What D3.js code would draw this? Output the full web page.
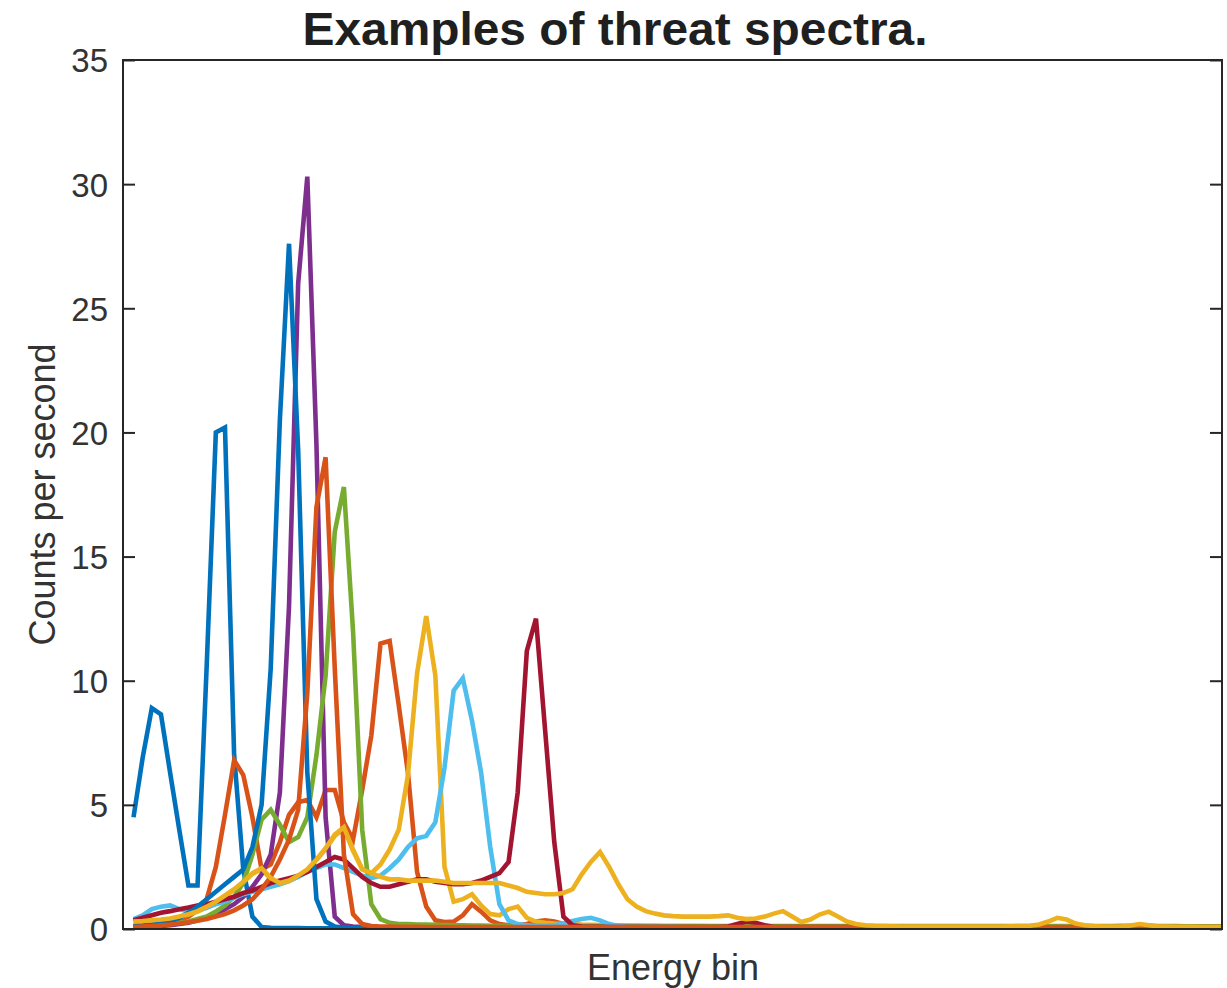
<!DOCTYPE html>
<html>
<head>
<meta charset="utf-8">
<script src="https://cdn.jsdelivr.net/npm/d3@7"></script>
<style>
  body { margin: 0; background: #ffffff; }
  svg { display: block; }
  text { font-family: "Liberation Sans", Arial, Helvetica, sans-serif; }
</style>
</head>
<body>
<svg id="chart" width="1227" height="988"></svg>
<script>
// Energy bin numbers (channel index of the detector spectrum)
const energyBins = d3.range(1, 121);

// Counts per second for each example threat spectrum, one value per bin
const spectrum1 = [
  4.5, 6.9, 8.9, 8.65, 6.3, 4.0, 1.75, 1.75, 10.6, 20.0, 20.2, 7.0, 2.4, 0.5, 0.08, 0.05, 0.04, 0.04, 0.04, 0.03,
  0.03, 0.03, 0.03, 0.03, 0.03, 0.03, 0.03, 0.03, 0.03, 0.03, 0.03, 0.03, 0.03, 0.03, 0.03, 0.03, 0.03, 0.03, 0.03, 0.03,
  0.03, 0.03, 0.03, 0.03, 0.03, 0.03, 0.03, 0.03, 0.03, 0.03, 0.03, 0.03, 0.03, 0.03, 0.03, 0.03, 0.03, 0.03, 0.03, 0.03,
  0.03, 0.03, 0.03, 0.03, 0.03, 0.03, 0.03, 0.03, 0.03, 0.03, 0.03, 0.03, 0.03, 0.03, 0.03, 0.03, 0.03, 0.03, 0.03, 0.03,
  0.03, 0.03, 0.03, 0.03, 0.03, 0.03, 0.03, 0.03, 0.03, 0.03, 0.03, 0.03, 0.03, 0.03, 0.03, 0.03, 0.03, 0.03, 0.03, 0.03,
  0.03, 0.03, 0.03, 0.03, 0.03, 0.03, 0.03, 0.03, 0.03, 0.03, 0.03, 0.03, 0.03, 0.03, 0.03, 0.03, 0.03, 0.03, 0.03, 0.03
];
const spectrum2 = [
  0.1, 0.12, 0.15, 0.2, 0.25, 0.35, 0.5, 0.75, 1.2, 2.5, 4.6, 6.8, 6.2, 4.5, 2.4, 2.6, 3.5, 4.6, 5.1, 5.2,
  4.5, 5.6, 5.6, 4.3, 3.6, 5.6, 7.8, 11.5, 11.6, 9.0, 6.3, 2.3, 0.9, 0.35, 0.28, 0.3, 0.55, 1.0, 0.7, 0.35,
  0.2, 0.15, 0.15, 0.2, 0.3, 0.35, 0.3, 0.2, 0.12, 0.1, 0.09, 0.09, 0.08, 0.08, 0.08, 0.08, 0.08, 0.08, 0.08, 0.08,
  0.08, 0.08, 0.08, 0.08, 0.08, 0.08, 0.08, 0.08, 0.08, 0.08, 0.08, 0.08, 0.08, 0.08, 0.08, 0.08, 0.08, 0.08, 0.08, 0.08,
  0.07, 0.07, 0.07, 0.07, 0.07, 0.07, 0.07, 0.07, 0.07, 0.07, 0.07, 0.07, 0.07, 0.07, 0.07, 0.07, 0.07, 0.07, 0.07, 0.07,
  0.07, 0.07, 0.07, 0.07, 0.07, 0.07, 0.07, 0.07, 0.07, 0.07, 0.07, 0.07, 0.07, 0.07, 0.07, 0.07, 0.07, 0.07, 0.07, 0.07
];
const spectrum3 = [
  0.28, 0.3, 0.33, 0.36, 0.4, 0.48, 0.58, 0.7, 0.88, 1.08, 1.32, 1.58, 1.88, 2.22, 2.42, 2.02, 1.82, 1.92, 2.12, 2.38,
  2.78, 3.22, 3.75, 4.05, 3.15, 2.42, 2.25, 2.6, 3.2, 4.0, 6.2, 10.3, 12.6, 10.2, 2.5, 1.1, 1.2, 1.4, 0.95, 0.6,
  0.55, 0.8, 0.9, 0.45, 0.3, 0.25, 0.22, 0.2, 0.2, 0.18, 0.17, 0.16, 0.15, 0.15, 0.14, 0.14, 0.13, 0.13, 0.12, 0.12,
  0.12, 0.12, 0.12, 0.11, 0.11, 0.11, 0.11, 0.11, 0.1, 0.1, 0.1, 0.1, 0.1, 0.1, 0.1, 0.1, 0.1, 0.1, 0.1, 0.1,
  0.1, 0.1, 0.1, 0.1, 0.1, 0.1, 0.1, 0.1, 0.1, 0.1, 0.1, 0.1, 0.1, 0.1, 0.1, 0.1, 0.1, 0.1, 0.1, 0.1,
  0.09, 0.09, 0.09, 0.09, 0.09, 0.09, 0.09, 0.09, 0.09, 0.09, 0.09, 0.09, 0.09, 0.09, 0.09, 0.09, 0.09, 0.09, 0.09, 0.09
];
const spectrum4 = [
  0.1, 0.1, 0.1, 0.12, 0.15, 0.2, 0.25, 0.35, 0.45, 0.6, 0.8, 1.0, 1.3, 1.7, 2.2, 3.0, 5.5, 13.0, 26.0, 30.3,
  19.5, 4.5, 0.5, 0.15, 0.1, 0.08, 0.07, 0.07, 0.06, 0.06, 0.06, 0.06, 0.06, 0.06, 0.06, 0.06, 0.06, 0.06, 0.06, 0.06,
  0.05, 0.05, 0.05, 0.05, 0.05, 0.05, 0.05, 0.05, 0.05, 0.05, 0.05, 0.05, 0.05, 0.05, 0.05, 0.05, 0.05, 0.05, 0.05, 0.05,
  0.05, 0.05, 0.05, 0.05, 0.05, 0.05, 0.05, 0.05, 0.05, 0.05, 0.05, 0.05, 0.05, 0.05, 0.05, 0.05, 0.05, 0.05, 0.05, 0.05,
  0.05, 0.05, 0.05, 0.05, 0.05, 0.05, 0.05, 0.05, 0.05, 0.05, 0.05, 0.05, 0.05, 0.05, 0.05, 0.05, 0.05, 0.05, 0.05, 0.05,
  0.05, 0.05, 0.05, 0.05, 0.05, 0.05, 0.05, 0.05, 0.05, 0.05, 0.05, 0.05, 0.05, 0.05, 0.05, 0.05, 0.05, 0.05, 0.05, 0.05
];
const spectrum5 = [
  0.1, 0.1, 0.12, 0.15, 0.2, 0.25, 0.3, 0.4, 0.5, 0.7, 0.95, 1.3, 1.85, 3.0, 4.4, 4.8, 4.2, 3.5, 3.7, 4.5,
  7.0, 10.2, 16.0, 17.8, 12.0, 4.0, 1.0, 0.4, 0.25, 0.2, 0.2, 0.18, 0.18, 0.17, 0.16, 0.15, 0.15, 0.14, 0.14, 0.13,
  0.13, 0.13, 0.12, 0.12, 0.12, 0.12, 0.12, 0.12, 0.12, 0.12, 0.12, 0.12, 0.12, 0.12, 0.12, 0.12, 0.12, 0.12, 0.12, 0.12,
  0.12, 0.12, 0.12, 0.12, 0.12, 0.12, 0.12, 0.12, 0.12, 0.12, 0.12, 0.12, 0.12, 0.12, 0.12, 0.12, 0.12, 0.12, 0.12, 0.12,
  0.12, 0.12, 0.12, 0.12, 0.12, 0.12, 0.12, 0.12, 0.12, 0.12, 0.12, 0.12, 0.12, 0.12, 0.12, 0.12, 0.12, 0.12, 0.12, 0.12,
  0.12, 0.12, 0.12, 0.12, 0.12, 0.12, 0.12, 0.12, 0.13, 0.14, 0.16, 0.14, 0.12, 0.12, 0.12, 0.11, 0.11, 0.11, 0.11, 0.11
];
const spectrum6 = [
  0.4, 0.55, 0.8, 0.9, 0.95, 0.8, 0.7, 0.75, 0.85, 1.0, 1.1, 1.25, 1.4, 1.5, 1.6, 1.7, 1.8, 1.95, 2.1, 2.3,
  2.45, 2.6, 2.6, 2.45, 2.3, 2.15, 2.05, 2.15, 2.45, 2.8, 3.3, 3.65, 3.75, 4.3, 6.5, 9.6, 10.1, 8.4, 6.3, 3.3,
  1.0, 0.35, 0.2, 0.15, 0.12, 0.12, 0.15, 0.22, 0.32, 0.4, 0.45, 0.35, 0.2, 0.12, 0.09, 0.08, 0.08, 0.08, 0.08, 0.08,
  0.07, 0.07, 0.07, 0.07, 0.07, 0.07, 0.07, 0.07, 0.07, 0.07, 0.07, 0.07, 0.07, 0.07, 0.07, 0.07, 0.07, 0.07, 0.07, 0.07,
  0.07, 0.07, 0.07, 0.07, 0.07, 0.07, 0.07, 0.07, 0.07, 0.07, 0.07, 0.07, 0.07, 0.07, 0.07, 0.07, 0.07, 0.07, 0.07, 0.07,
  0.07, 0.07, 0.07, 0.07, 0.07, 0.07, 0.07, 0.07, 0.07, 0.07, 0.07, 0.07, 0.07, 0.07, 0.07, 0.07, 0.07, 0.07, 0.07, 0.07
];
const spectrum7 = [
  0.35, 0.45, 0.55, 0.65, 0.72, 0.8, 0.87, 0.95, 1.0, 1.1, 1.2, 1.3, 1.45, 1.55, 1.7, 1.85, 1.95, 2.05, 2.15, 2.3,
  2.5, 2.7, 2.9, 2.8, 2.45, 2.1, 1.85, 1.7, 1.7, 1.8, 1.9, 2.0, 2.0, 1.9, 1.85, 1.8, 1.8, 1.85, 1.95, 2.1,
  2.25, 2.7, 5.5, 11.2, 12.5, 8.0, 3.5, 0.5, 0.15, 0.1, 0.09, 0.09, 0.08, 0.08, 0.08, 0.08, 0.08, 0.08, 0.08, 0.08,
  0.08, 0.08, 0.08, 0.08, 0.08, 0.1, 0.2, 0.3, 0.25, 0.15, 0.08, 0.08, 0.08, 0.08, 0.08, 0.08, 0.08, 0.08, 0.08, 0.08,
  0.07, 0.07, 0.07, 0.07, 0.07, 0.07, 0.07, 0.07, 0.07, 0.07, 0.07, 0.07, 0.07, 0.07, 0.07, 0.07, 0.07, 0.07, 0.07, 0.07,
  0.07, 0.07, 0.07, 0.07, 0.07, 0.07, 0.07, 0.07, 0.07, 0.07, 0.07, 0.07, 0.07, 0.07, 0.07, 0.07, 0.07, 0.07, 0.07, 0.07
];
const spectrum8 = [
  0.12, 0.14, 0.17, 0.22, 0.3, 0.45, 0.65, 0.9, 1.2, 1.5, 1.8, 2.1, 2.4, 3.3, 5.0, 10.5, 20.5, 27.6, 19.3, 6.3,
  1.2, 0.3, 0.1, 0.05, 0.04, 0.04, 0.04, 0.04, 0.04, 0.04, 0.04, 0.04, 0.04, 0.04, 0.04, 0.04, 0.04, 0.04, 0.04, 0.04,
  0.04, 0.04, 0.04, 0.04, 0.04, 0.04, 0.04, 0.04, 0.04, 0.04, 0.04, 0.04, 0.04, 0.04, 0.04, 0.04, 0.04, 0.04, 0.04, 0.04,
  0.04, 0.04, 0.04, 0.04, 0.04, 0.04, 0.04, 0.04, 0.04, 0.04, 0.04, 0.04, 0.04, 0.04, 0.04, 0.04, 0.04, 0.04, 0.04, 0.04,
  0.04, 0.04, 0.04, 0.04, 0.04, 0.04, 0.04, 0.04, 0.04, 0.04, 0.04, 0.04, 0.04, 0.04, 0.04, 0.04, 0.04, 0.04, 0.04, 0.04,
  0.04, 0.04, 0.04, 0.04, 0.04, 0.04, 0.04, 0.04, 0.04, 0.04, 0.04, 0.04, 0.04, 0.04, 0.04, 0.04, 0.04, 0.04, 0.04, 0.04
];
const spectrum9 = [
  0.08, 0.1, 0.12, 0.15, 0.18, 0.22, 0.27, 0.33, 0.4, 0.5, 0.6, 0.75, 0.95, 1.2, 1.6, 2.1, 2.8, 3.6, 4.8, 9.5,
  17.0, 19.0, 10.5, 3.0, 0.6, 0.2, 0.12, 0.1, 0.1, 0.09, 0.09, 0.09, 0.08, 0.08, 0.08, 0.08, 0.08, 0.08, 0.08, 0.08,
  0.08, 0.08, 0.08, 0.08, 0.08, 0.08, 0.08, 0.08, 0.08, 0.08, 0.08, 0.08, 0.08, 0.08, 0.08, 0.08, 0.08, 0.08, 0.08, 0.08,
  0.08, 0.08, 0.08, 0.08, 0.08, 0.08, 0.08, 0.08, 0.08, 0.08, 0.08, 0.08, 0.08, 0.08, 0.08, 0.08, 0.08, 0.08, 0.08, 0.08,
  0.08, 0.08, 0.08, 0.08, 0.08, 0.08, 0.08, 0.08, 0.08, 0.08, 0.08, 0.08, 0.08, 0.08, 0.08, 0.08, 0.08, 0.08, 0.08, 0.08,
  0.08, 0.08, 0.08, 0.08, 0.08, 0.08, 0.08, 0.08, 0.08, 0.08, 0.08, 0.08, 0.08, 0.08, 0.08, 0.08, 0.08, 0.08, 0.08, 0.08
];
const spectrum10 = [
  0.3, 0.32, 0.35, 0.38, 0.42, 0.5, 0.6, 0.72, 0.9, 1.1, 1.35, 1.6, 1.9, 2.25, 2.45, 2.05, 1.85, 1.95, 2.15, 2.4,
  2.8, 3.25, 3.8, 4.1, 3.2, 2.4, 2.25, 2.1, 2.0, 2.0, 1.95, 1.95, 1.95, 1.95, 1.9, 1.85, 1.85, 1.85, 1.85, 1.85,
  1.85, 1.75, 1.65, 1.5, 1.45, 1.4, 1.4, 1.45, 1.6, 2.2, 2.7, 3.1, 2.5, 1.8, 1.2, 0.9, 0.72, 0.62, 0.55, 0.52,
  0.5, 0.5, 0.5, 0.5, 0.52, 0.55, 0.45, 0.4, 0.42, 0.5, 0.62, 0.72, 0.5, 0.28, 0.38, 0.58, 0.7, 0.5, 0.3, 0.2,
  0.15, 0.13, 0.12, 0.11, 0.1, 0.1, 0.1, 0.1, 0.1, 0.1, 0.1, 0.1, 0.1, 0.1, 0.1, 0.1, 0.11, 0.12, 0.13, 0.18,
  0.3, 0.45, 0.38, 0.22, 0.15, 0.12, 0.1, 0.1, 0.1, 0.14, 0.2, 0.15, 0.1, 0.1, 0.09, 0.09, 0.09, 0.08, 0.08, 0.08
];

// Default plotting colour order, cycled through the ten spectra
const lineColors = ["#0072BD", "#D95319", "#EDB120", "#7E2F8E", "#77AC30",
                    "#4DBEEE", "#A2142F", "#0072BD", "#D95319", "#EDB120"];

const yTickValues = [0, 5, 10, 15, 20, 25, 30, 35];

const titleText = "Examples of threat spectra.";
const xLabelText = "Energy bin";
const yLabelText = "Counts per second";

const spectra = [spectrum1, spectrum2, spectrum3, spectrum4, spectrum5,
                 spectrum6, spectrum7, spectrum8, spectrum9, spectrum10];

// ---- layout ----
const plot = { left: 123, right: 1222, top: 60, bottom: 929 };
const ink = "#262626";

const svg = d3.select("#chart");

const x = d3.scaleLinear().domain([-0.15, 120]).range([plot.left, plot.right]);
const y = d3.scaleLinear().domain([0, 35]).range([plot.bottom, plot.top]);

svg.append("defs").append("clipPath").attr("id", "plot-clip")
  .append("rect")
  .attr("x", plot.left).attr("y", plot.top - 2)
  .attr("width", plot.right - plot.left).attr("height", plot.bottom - plot.top + 2);

// ---- spectra lines ----
const line = d3.line()
  .x((d, i) => x(energyBins[i]))
  .y(d => y(d));

svg.append("g")
  .attr("clip-path", "url(#plot-clip)")
  .selectAll("path")
  .data(spectra)
  .join("path")
  .attr("d", line)
  .attr("fill", "none")
  .attr("stroke", (d, i) => lineColors[i])
  .attr("stroke-width", 4.6)
  .attr("stroke-linejoin", "miter")
  .attr("stroke-linecap", "butt");

// ---- axes box ----
svg.append("rect")
  .attr("x", plot.left).attr("y", plot.top)
  .attr("width", plot.right - plot.left).attr("height", plot.bottom - plot.top)
  .attr("fill", "none").attr("stroke", ink).attr("stroke-width", 2);

const leftAxis = d3.axisLeft(y)
  .tickValues(yTickValues)
  .tickSizeInner(-12)
  .tickSizeOuter(0)
  .tickPadding(15)
  .tickFormat(d3.format("d"));

const gLeft = svg.append("g")
  .attr("transform", `translate(${plot.left},0)`)
  .call(leftAxis);
gLeft.select(".domain").remove();
gLeft.selectAll(".tick line").attr("stroke", ink).attr("stroke-width", 2);
gLeft.selectAll(".tick text")
  .attr("fill", "#333333")
  .style("font-size", "33px")
  .attr("dy", "0.36em");

const rightAxis = d3.axisRight(y)
  .tickValues(yTickValues)
  .tickSizeInner(-12)
  .tickSizeOuter(0)
  .tickFormat("");

const gRight = svg.append("g")
  .attr("transform", `translate(${plot.right},0)`)
  .call(rightAxis);
gRight.select(".domain").remove();
gRight.selectAll(".tick line").attr("stroke", ink).attr("stroke-width", 2);

// ---- title and axis labels ----
svg.append("text")
  .attr("x", 615).attr("y", 45)
  .attr("text-anchor", "middle")
  .attr("fill", "#1f1f1f")
  .style("font-size", "47px")
  .style("font-weight", "bold")
  .attr("textLength", 625)
  .attr("lengthAdjust", "spacingAndGlyphs")
  .text(titleText);

svg.append("text")
  .attr("x", 673).attr("y", 980)
  .attr("text-anchor", "middle")
  .attr("fill", "#333333")
  .style("font-size", "36px")
  .text(xLabelText);

svg.append("text")
  .attr("transform", `translate(55,${(plot.top + plot.bottom) / 2}) rotate(-90)`)
  .attr("text-anchor", "middle")
  .attr("fill", "#333333")
  .style("font-size", "36px")
  .text(yLabelText);
</script>
</body>
</html>
